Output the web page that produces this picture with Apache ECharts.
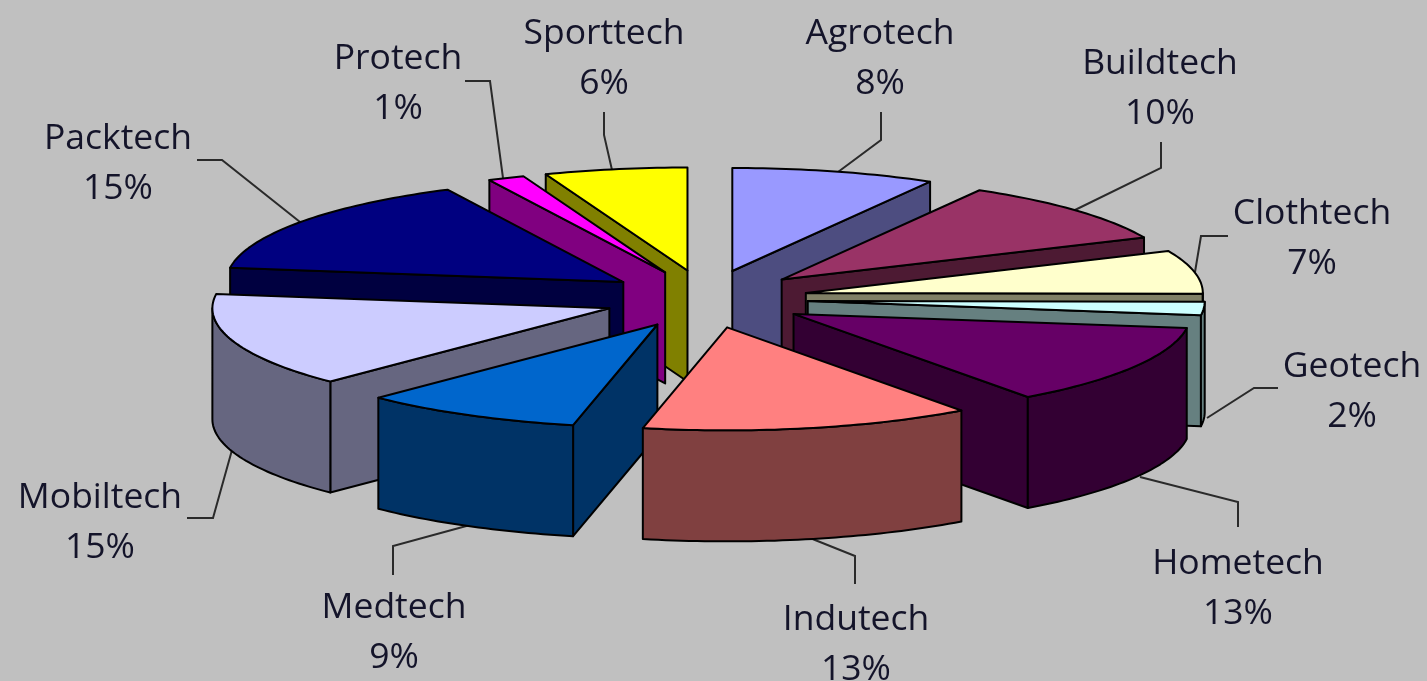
<!DOCTYPE html>
<html>
<head>
<meta charset="utf-8">
<style>html,body{margin:0;padding:0;background:#c0c0c0}#c{width:1427px;height:681px}</style>
<script src="https://cdn.jsdelivr.net/npm/echarts@6/dist/echarts.min.js"></script>
</head>
<body>
<div id="c"></div>
<script>
// ---- data ----
const categories = ['Agrotech','Buildtech','Clothtech','Geotech','Hometech','Indutech','Medtech','Mobiltech','Packtech','Protech','Sporttech'];
const shares = [8.3,10,6.8,2.1,12.75,13.45,9,14.8,15.49,1.49,5.81];
const topColors = ['#9999FF','#993366','#FFFFCC','#CCFFFF','#660066','#FF8080','#0066CC','#CCCCFF','#000080','#FF00FF','#FFFF00'];
const sideColors = ['#4D4D80','#4D1A33','#808066','#668080','#330033','#804040','#003366','#666680','#000040','#800080','#808000'];
// ---- layout ----
const paintOrder = [0,10,9,1,8,2,3,7,4,6,5];
const labelCentres = [[880,34],[1160,64],[1312,214],[1352,367],[1238,564],[856,620],[394,608],[100,498],[118,139],[398,59],[604,34]];
const leaders = [
  [[838,172],[881,140],[881,112]],
  [[1075,210],[1161,168],[1161,142]],
  [[1195,272],[1201,236],[1228,236]],
  [[1207,418],[1254,388],[1278,388]],
  [[1140,477],[1238,502],[1238,527]],
  [[810,538],[855,556],[855,584]],
  [[470,525],[393,546],[393,575]],
  [[232,450],[213,518],[187,518]],
  [[300,222],[222,160],[197,160]],
  [[503,178],[490,81],[465,81]],
  [[612,170],[604,135],[604,112]]
];
const CX=706, CY=299, RX=397, RY=103, EX=102, EY=29, DEPTH=111;
const total = shares.reduce((a,b)=>a+b,0);
const starts = []; shares.reduce((acc,v,i)=>{starts[i]=acc;return acc+v;},0);
const rad = v => v/total*2*Math.PI;

function arc(ax,ay,a0,a1,dy){
  const pts=[]; const n=Math.max(2,Math.ceil((a1-a0)/0.02));
  for(let i=0;i<=n;i++){const a=a0+(a1-a0)*i/n;pts.push([ax+RX*Math.sin(a),ay-RY*Math.cos(a)+dy]);}
  return pts;
}
const stroke='#000';
function poly(points,fill){
  return {type:'polygon',shape:{points},style:{fill,stroke,lineWidth:2,lineJoin:'round'}};
}
function renderItem(params,api){
  const idx=api.value(0), v=api.value(1);
  const a0=rad(starts[idx]), a1=rad(starts[idx]+v), mid=(a0+a1)/2;
  const ax=CX+EX*Math.sin(mid), ay=CY-EY*Math.cos(mid);
  const side=sideColors[idx], children=[];
  const wall=a=>{
    const p=[ax+RX*Math.sin(a),ay-RY*Math.cos(a)];
    return poly([[ax,ay],p,[p[0],p[1]+DEPTH],[ax,ay+DEPTH]],side);
  };
  if(Math.cos(a0-Math.PI/2)<0) children.push(wall(a0));
  if(Math.cos(a1+Math.PI/2)<-1e-6) children.push(wall(a1));
  const f0=Math.max(a0,Math.PI/2), f1=Math.min(a1,3*Math.PI/2);
  if(f1>f0){
    children.push(poly(arc(ax,ay,f0,f1,0).concat(arc(ax,ay,f0,f1,DEPTH).reverse()),side));
  }
  children.push(poly([[ax,ay]].concat(arc(ax,ay,a0,a1,0)),topColors[idx]));
  return {type:'group',children};
}
function renderLabels(params,api){
  const idx=api.value(0), v=api.value(1), c=labelCentres[idx];
  return {type:'group',children:[
    {type:'polyline',shape:{points:leaders[idx]},style:{fill:'none',stroke:'#2a2a2a',lineWidth:2}},
    {type:'text',style:{x:c[0],y:c[1],text:categories[idx],fill:'#14142a',font:'35.5px "Open Sans"',align:'center',verticalAlign:'middle'}},
    {type:'text',style:{x:c[0],y:c[1]+50,text:Math.round(v)+'%',fill:'#14142a',font:'35.5px "Open Sans"',align:'center',verticalAlign:'middle'}}
  ]};
}
const chart=echarts.init(document.getElementById('c'),null,{renderer:'canvas'});
chart.setOption({
  animation:false,
  backgroundColor:'#C0C0C0',
  series:[
    {type:'custom',coordinateSystem:'none',silent:true,clip:false,renderItem:renderLabels,
     data:categories.map((_,i)=>[i,shares[i]]),z:1},
    {type:'custom',coordinateSystem:'none',silent:true,clip:false,renderItem:renderItem,
     data:paintOrder.map(i=>[i,shares[i]]),z:2}
  ]
});
</script>
</body>
</html>
